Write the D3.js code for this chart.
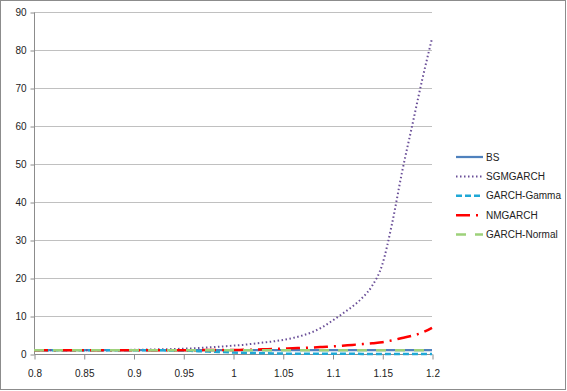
<!DOCTYPE html>
<html><head><meta charset="utf-8">
<script src="https://cdn.jsdelivr.net/npm/d3@7"></script>
<style>body{margin:0;background:#fff}svg{display:block}</style>
</head><body>
<script>
const moneyness = [0.80,0.81,0.82,0.83,0.84,0.85,0.86,0.87,0.88,0.89,0.90,0.91,0.92,0.93,0.94,0.95,0.96,0.97,0.98,0.99,1.00,1.01,1.02,1.03,1.04,1.05,1.06,1.07,1.08,1.09,1.10,1.11,1.12,1.13,1.14,1.15,1.16,1.17,1.18,1.19,1.20];
const bs = moneyness.map(() => 1);
const sgmgarch = [1.0,1.0,1.0,1.0,1.0,1.0,1.0,1.0,1.0,1.05,1.1,1.15,1.2,1.25,1.3,1.4,1.5,1.65,1.8,2.0,2.2,2.4,2.7,3.0,3.3,3.7,4.2,4.9,5.8,7.1,8.8,10.6,12.5,14.8,18.0,23.5,34.5,48,60,72,83];
const garchGamma = [1.0,1.0,1.0,1.0,1.0,1.0,1.0,1.0,1.0,1.0,1.0,1.0,0.98,0.96,0.93,0.9,0.8,0.7,0.6,0.5,0.4,0.32,0.25,0.2,0.15,0.1,0.08,0.07,0.06,0.05,0.05,0.04,0.04,0.03,0.03,0.03,0.02,0.02,0.02,0.02,0.02];
const nmgarch = [1.0,1.0,1.0,1.0,1.0,1.0,1.0,1.0,1.0,1.0,1.0,1.0,1.0,1.0,1.0,1.0,1.0,1.02,1.03,1.04,1.05,1.1,1.15,1.25,1.3,1.4,1.5,1.6,1.7,1.85,2.0,2.2,2.4,2.6,2.85,3.1,3.6,4.2,4.8,5.6,6.9];
const garchNormal = moneyness.map(() => 1);
const xTicks = [0.8,0.85,0.9,0.95,1,1.05,1.1,1.15,1.2];
const yTicks = [0,10,20,30,40,50,60,70,80,90];

const series = [
  {name:"BS", values:bs, color:"#4F81BD", width:2.25, dash:null},
  {name:"SGMGARCH", values:sgmgarch, color:"#6A4F98", width:2, dash:"1.5,2.5"},
  {name:"GARCH-Gamma", values:garchGamma, color:"#1FA8D6", width:2.5, dash:"6,3"},
  {name:"NMGARCH", values:nmgarch, color:"#FF0000", width:2.5, dash:"14,6,2,6"},
  {name:"GARCH-Normal", values:garchNormal, color:"#9DD17A", width:2.5, dash:"10,9"}
];

const W = 567, H = 391;
const svg = d3.select("body").append("svg").attr("width", W).attr("height", H);
svg.append("rect").attr("x",0.5).attr("y",0.5).attr("width",W-2).attr("height",H-2)
  .attr("fill","#fff").attr("stroke","#8c8c8c");

const x = d3.scaleLinear().domain([0.8,1.2]).range([34,432]);
const y = d3.scaleLinear().domain([0,90]).range([354,12]);

svg.append("g").selectAll("line").data(yTicks.filter(d=>d>0)).join("line")
  .attr("x1",34).attr("x2",432).attr("y1",d=>y(d)+0.5).attr("y2",d=>y(d)+0.5)
  .attr("stroke","#c0c0c0").attr("stroke-width",1);

const yAxis = svg.append("g").attr("transform","translate(34.5,0.5)")
  .call(d3.axisLeft(y).tickValues(yTicks).tickSize(4).tickPadding(4).tickFormat(d3.format("d")));
yAxis.select(".domain").attr("stroke","#8c8c8c").attr("d","M0,"+y(90)+"V"+y(0));
yAxis.selectAll(".tick line").attr("stroke","#8c8c8c");
yAxis.selectAll("text").attr("font-family","Liberation Sans, Arial, sans-serif").attr("font-size","10px").attr("fill","#222");

const xAxis = svg.append("g").attr("transform","translate(0.5,354.5)")
  .call(d3.axisBottom(x).tickValues(xTicks).tickSize(5).tickPadding(10).tickFormat(d=>String(+d.toFixed(2))));
xAxis.select(".domain").attr("stroke","#8c8c8c").attr("d","M"+x(0.8)+",0H"+x(1.2));
xAxis.selectAll(".tick line").attr("stroke","#8c8c8c");
xAxis.selectAll("text").attr("font-family","Liberation Sans, Arial, sans-serif").attr("font-size","10px").attr("fill","#222");

const line = d3.line().x((d,i)=>x(moneyness[i])).y(d=>y(d)).curve(d3.curveMonotoneX);
svg.append("g").selectAll("path").data(series).join("path")
  .attr("d", s=>line(s.values))
  .attr("fill","none").attr("stroke",s=>s.color).attr("stroke-width",s=>s.width)
  .attr("stroke-dasharray",s=>s.dash);

const lg = svg.append("g");
const ly = d3.scalePoint().domain(series.map(s=>s.name)).range([157,234.5]);
const item = lg.selectAll("g").data(series).join("g").attr("transform",s=>`translate(0,${ly(s.name)})`);
item.append("line").attr("x1",456).attr("x2",483).attr("y1",0).attr("y2",0)
  .attr("stroke",s=>s.color).attr("stroke-width",s=>s.width).attr("stroke-dasharray",s=>s.dash);
item.append("text").attr("x",486).attr("y",0).attr("dy","0.35em").text(s=>s.name)
  .attr("font-family","Liberation Sans, Arial, sans-serif").attr("font-size","10px").attr("fill","#222");
</script>
</body></html>
